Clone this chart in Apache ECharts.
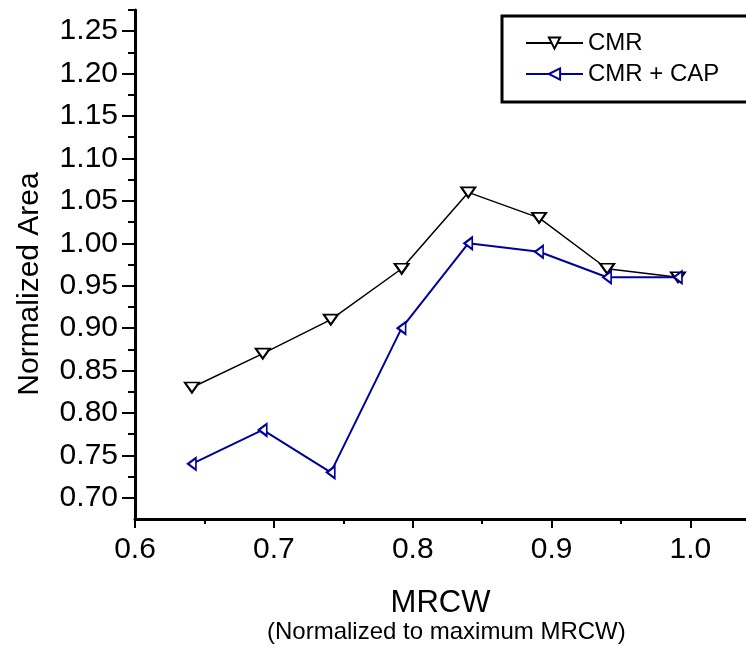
<!DOCTYPE html>
<html>
<head>
<meta charset="utf-8">
<script src="https://cdn.jsdelivr.net/npm/echarts@6/dist/echarts.min.js"></script>
<style>
  html, body { margin: 0; padding: 0; background: #fff; }
  #chart { width: 746px; height: 647px; }
</style>
</head>
<body>
<div id="chart"></div>
<script>
// values
var xValues = [0.641, 0.692, 0.741, 0.792, 0.840, 0.891, 0.940, 0.991];
var cmr = [0.83, 0.87, 0.91, 0.97, 1.06, 1.03, 0.97, 0.96];
var cmrCap = [0.74, 0.78, 0.73, 0.90, 1.00, 0.99, 0.96, 0.96];

var xTicks = [0.6, 0.7, 0.8, 0.9, 1.0];
var xMinorTicks = [0.65, 0.75, 0.85, 0.95];
var yTicks = [0.70, 0.75, 0.80, 0.85, 0.90, 0.95, 1.00, 1.05, 1.10, 1.15, 1.20, 1.25];
var yMinorTicks = [0.725, 0.775, 0.825, 0.875, 0.925, 0.975, 1.025, 1.075, 1.125, 1.175, 1.225, 1.275];

var font = "'Liberation Sans', Arial, sans-serif";

function pairs(xs, ys) {
  return xs.map(function (x, i) { return [x, ys[i]]; });
}

var chart = echarts.init(document.getElementById("chart"));
chart.setOption({
  animation: false,
  backgroundColor: "#fff",
  grid: { left: 135, right: 0, top: 10, bottom: 128 },
  legend: {
    orient: "vertical",
    left: 502,
    top: 16,
    padding: [15, 40, 16, 23],
    itemWidth: 57,
    itemHeight: 14,
    itemGap: 7,
    borderColor: "#000",
    borderWidth: 3,
    borderRadius: 0,
    backgroundColor: "#fff",
    textStyle: { fontFamily: font, fontSize: 24, color: "#000" },
    data: ["CMR", "CMR + CAP"]
  },
  xAxis: [
    {
      type: "value",
      min: 0.6,
      max: 1.04,
      name: "MRCW",
      nameLocation: "middle",
      nameGap: 69,
      nameTextStyle: { fontFamily: font, fontSize: 31, color: "#000" },
      axisLine: { show: true, lineStyle: { color: "#000", width: 3 } },
      axisTick: { show: true, customValues: xTicks, length: 9, lineStyle: { color: "#000", width: 2 } },
      axisLabel: {
        customValues: xTicks,
        margin: 16,
        fontFamily: font,
        fontSize: 30,
        color: "#000",
        formatter: function (v) { return v.toFixed(1); }
      },
      splitLine: { show: false }
    },
    {
      type: "value",
      min: 0.6,
      max: 1.04,
      position: "bottom",
      axisLine: { show: false },
      axisTick: { show: true, customValues: xMinorTicks, length: 5, lineStyle: { color: "#000", width: 2 } },
      axisLabel: { show: false },
      splitLine: { show: false }
    }
  ],
  yAxis: [
    {
      type: "value",
      min: 0.675,
      max: 1.275,
      axisLine: { show: true, lineStyle: { color: "#000", width: 3 } },
      axisTick: { show: true, customValues: yTicks, length: 13, lineStyle: { color: "#000", width: 2 } },
      axisLabel: {
        customValues: yTicks,
        margin: 17,
        fontFamily: font,
        fontSize: 30,
        color: "#000",
        formatter: function (v) { return v.toFixed(2); }
      },
      splitLine: { show: false }
    },
    {
      type: "value",
      min: 0.675,
      max: 1.275,
      position: "left",
      axisLine: { show: false },
      axisTick: { show: true, customValues: yMinorTicks, length: 7, lineStyle: { color: "#000", width: 2 } },
      axisLabel: { show: false },
      splitLine: { show: false }
    }
  ],
  graphic: [
    {
      // y axis title, sits a bit below the plot centre in the reference
      type: "text",
      x: 30,
      y: 284,
      rotation: Math.PI / 2,
      style: {
        text: "Normalized Area",
        font: "30px " + font,
        fill: "#000",
        align: "center",
        verticalAlign: "middle"
      }
    },
    {
      type: "text",
      left: 267,
      top: 620,
      style: {
        text: "(Normalized to maximum MRCW)",
        font: "24px " + font,
        fill: "#000"
      }
    }
  ],
  series: [
    {
      name: "CMR",
      type: "line",
      data: pairs(xValues, cmr),
      symbol: "triangle",
      symbolSize: [14, 10],
      symbolRotate: 180,
      lineStyle: { color: "#000", width: 1.5 },
      itemStyle: { color: "#fff", borderColor: "#000", borderWidth: 2 }
    },
    {
      name: "CMR + CAP",
      type: "line",
      data: pairs(xValues, cmrCap),
      symbol: "triangle",
      symbolSize: [12, 8],
      symbolRotate: 90,
      lineStyle: { color: "#00009c", width: 2 },
      itemStyle: { color: "#fff", borderColor: "#00009c", borderWidth: 2 }
    }
  ]
});
</script>
</body>
</html>
